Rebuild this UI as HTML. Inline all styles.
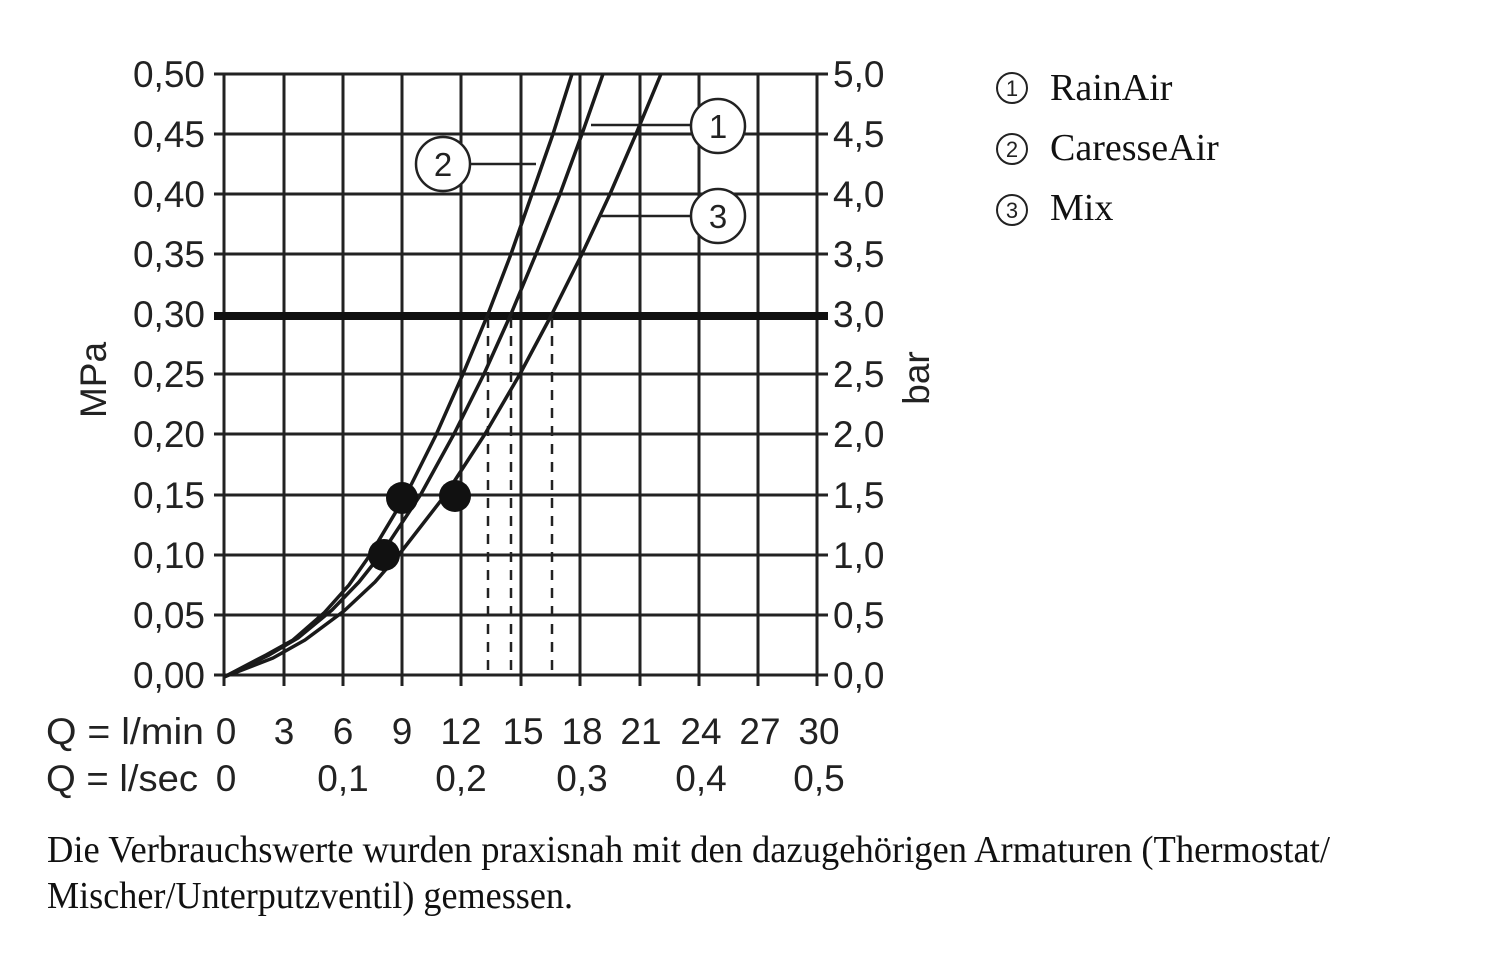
<!DOCTYPE html>
<html><head><meta charset="utf-8"><style>
html,body{margin:0;padding:0;background:#fff;}
svg{display:block;}
.s{font-family:"Liberation Sans","DejaVu Sans",sans-serif;font-size:37px;fill:#222;}
.r{font-family:"Liberation Serif",serif;font-size:38px;fill:#111;}
</style></head><body>
<svg width="1500" height="956" viewBox="0 0 1500 956" xmlns="http://www.w3.org/2000/svg">
<g stroke="#222" stroke-width="3" fill="none">
<path d="M224 74V675M284 74V675M343 74V675M402 74V675M461 74V675M521 74V675M580 74V675M640 74V675M699 74V675M758 74V675M817 74V675"/>
<path d="M214 74H828M214 134H828M214 194H828M214 254H828M214 374H828M214 434H828M214 495H828M214 555H828M214 615H828M214 675H828"/>
<path d="M224 675V686M284 675V686M343 675V686M402 675V686M461 675V686M521 675V686M580 675V686M640 675V686M699 675V686M758 675V686M817 675V686"/>
</g>
<path d="M214 316H828" stroke="#111" stroke-width="8"/>
<g stroke="#222" stroke-width="2.5" stroke-dasharray="10,8">
<path d="M488 318V675M511 318V675M552 318V675"/>
</g>
<g stroke="#1a1a1a" stroke-width="3.5" fill="none" stroke-linejoin="round">
<polyline points="224,677 266,655 293,640 324,613 349,585 370,555 406,495 436,435 463,374 488,314 511,254 532,194 553,134 572,74"/>
<polyline points="224,677 269,655 298,638 332,610 359,582 382,553 421,494 454,434 484,374 511,314 536,254 560,194 582,134 603,74"/>
<polyline points="224,677 273,658 305,640 344,611 375,582 401,552 446,494 485,434 520,374 552,314 582,254 610,194 636,134 661,74"/>
</g>
<g fill="#111">
<circle cx="402" cy="498" r="16"/><circle cx="455" cy="496" r="16"/><circle cx="384" cy="555" r="16"/>
</g>
<g stroke="#222" stroke-width="2.5" fill="#fff">
<path d="M591 125H691M471 164H536M599 216H691" fill="none"/>
<circle cx="718" cy="126" r="27"/><circle cx="443" cy="164" r="27"/><circle cx="718" cy="216" r="27"/>
</g>
<g class="s" text-anchor="middle" style="font-size:33px">
<text x="718" y="138">1</text><text x="443" y="176">2</text><text x="718" y="228">3</text>
</g>
<g class="s" text-anchor="end">
<text x="205" y="87">0,50</text><text x="205" y="147">0,45</text><text x="205" y="207">0,40</text><text x="205" y="267">0,35</text><text x="205" y="327">0,30</text><text x="205" y="387">0,25</text><text x="205" y="447">0,20</text><text x="205" y="508">0,15</text><text x="205" y="568">0,10</text><text x="205" y="628">0,05</text><text x="205" y="688">0,00</text>
</g>
<g class="s">
<text x="833" y="87">5,0</text><text x="833" y="147">4,5</text><text x="833" y="207">4,0</text><text x="833" y="267">3,5</text><text x="833" y="327">3,0</text><text x="833" y="387">2,5</text><text x="833" y="447">2,0</text><text x="833" y="508">1,5</text><text x="833" y="568">1,0</text><text x="833" y="628">0,5</text><text x="833" y="688">0,0</text>
</g>
<text class="s" transform="translate(106 380) rotate(-90)" text-anchor="middle">MPa</text>
<text class="s" transform="translate(929 378) rotate(-90)" text-anchor="middle">bar</text>
<g class="s" text-anchor="middle">
<text x="226" y="744">0</text><text x="284" y="744">3</text><text x="343" y="744">6</text><text x="402" y="744">9</text><text x="461" y="744">12</text><text x="523" y="744">15</text><text x="582" y="744">18</text><text x="641" y="744">21</text><text x="701" y="744">24</text><text x="760" y="744">27</text><text x="819" y="744">30</text>
<text x="226" y="791">0</text><text x="343" y="791">0,1</text><text x="461" y="791">0,2</text><text x="582" y="791">0,3</text><text x="701" y="791">0,4</text><text x="819" y="791">0,5</text>
</g>
<text class="s" x="46" y="744" textLength="158" lengthAdjust="spacingAndGlyphs">Q = l/min</text>
<text class="s" x="46" y="791" textLength="152" lengthAdjust="spacingAndGlyphs">Q = l/sec</text>
<g stroke="#222" stroke-width="2" fill="none">
<circle cx="1012" cy="88" r="15"/><circle cx="1012" cy="149" r="15"/><circle cx="1012" cy="210" r="15"/>
</g>
<g font-family="Liberation Sans,sans-serif" font-size="22" text-anchor="middle" fill="#222">
<text x="1012" y="96">1</text><text x="1012" y="157">2</text><text x="1012" y="218">3</text>
</g>
<text class="r" x="1050" y="100">RainAir</text>
<text class="r" x="1050" y="160">CaresseAir</text>
<text class="r" x="1050" y="220">Mix</text>
<text class="r" x="47" y="862" font-size="33" textLength="1283" lengthAdjust="spacingAndGlyphs">Die Verbrauchswerte wurden praxisnah mit den dazugehörigen Armaturen (Thermostat/</text>
<text class="r" x="47" y="908" font-size="33" textLength="526" lengthAdjust="spacingAndGlyphs">Mischer/Unterputzventil) gemessen.</text>
</svg>
</body></html>
